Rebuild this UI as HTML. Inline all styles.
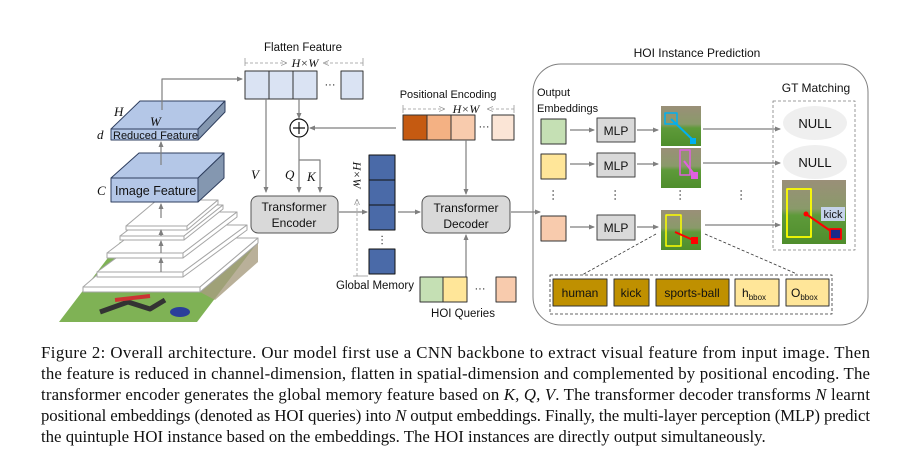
<!DOCTYPE html>
<html><head><meta charset="utf-8"><style>
html,body{margin:0;padding:0;background:#fff;width:910px;height:472px;overflow:hidden}
svg{display:block}
.s{font-family:"Liberation Sans","DejaVu Sans",sans-serif;fill:#111}
.i{font-family:"Liberation Serif",serif;font-style:italic;fill:#111}
.c{font-family:"Liberation Serif",serif;font-size:16.8px;fill:#111}
</style></head><body>
<svg width="910" height="472" viewBox="0 0 910 472" xmlns="http://www.w3.org/2000/svg">
<defs>
<marker id="a" markerWidth="6" markerHeight="6" refX="5" refY="3" orient="auto" markerUnits="userSpaceOnUse"><path d="M0,0.5 L6,3 L0,5.5 z" fill="#7f7f7f"/></marker>
<marker id="d" markerWidth="6" markerHeight="6" refX="5" refY="3" orient="auto" markerUnits="userSpaceOnUse"><path d="M0,0.5 L6,3 L0,5.5" fill="none" stroke="#999" stroke-width="0.8"/></marker>
<linearGradient id="ph" x1="0" y1="0" x2="0" y2="1"><stop offset="0" stop-color="#9a8f78"/><stop offset="0.45" stop-color="#8a9a6a"/><stop offset="0.55" stop-color="#5e9a3a"/><stop offset="1" stop-color="#4f8e2c"/></linearGradient>
</defs>
<g stroke-linejoin="round">
<!-- photo under stack -->
<polygon points="59,322 197,322 258,242 120,242" fill="#7fb255"/>
<polygon points="200,292 258,242 258,262 215,300" fill="#a89c80" opacity="0.8"/>
<path d="M100,312 L128,302 L150,309 L165,300" stroke="#333" stroke-width="5" fill="none"/>
<ellipse cx="180" cy="312" rx="10" ry="5" fill="#2a3f9a"/>
<path d="M115,300 L150,296" stroke="#c33" stroke-width="4"/>
<!-- layer stack -->
<g fill="#fff" stroke="#a6a6a6" stroke-width="1">
<polygon points="83,287 200,287 258,238 140,238"/><rect x="83" y="287" width="117" height="5"/><polygon points="200,287 258,238 258,243 200,292"/>
<polygon points="97,272 183,272 247,225 161,225"/><rect x="97" y="272" width="86" height="5"/><polygon points="183,272 247,225 247,230 183,277"/>
<polygon points="107,253 183,253 237,212 161,212"/><rect x="107" y="253" width="76" height="5"/><polygon points="183,253 237,212 237,217 183,258"/>
<polygon points="120,236 184,236 223,205 161,205"/><rect x="120" y="236" width="64" height="4"/><polygon points="184,236 223,205 223,209 184,240"/>
<polygon points="126,226 187,226 218,200 157,200"/><rect x="126" y="226" width="61" height="4"/><polygon points="187,226 218,200 218,204 187,230"/>
</g>
<g stroke="#7f7f7f" stroke-width="1.2" fill="none">
<line x1="161" y1="272" x2="161" y2="258" marker-end="url(#a)"/>
<line x1="161" y1="253" x2="161" y2="241" marker-end="url(#a)"/>
<line x1="161" y1="236" x2="161" y2="230" marker-end="url(#a)"/>
<line x1="161" y1="218" x2="161" y2="204" marker-end="url(#a)"/>
</g>
<!-- image feature -->
<polygon points="111,178 139,153 224,153 198,178" fill="#b4c7e7" stroke="#2f3f5f" stroke-width="1"/>
<polygon points="198,178 224,153 224,178 198,202" fill="#8497b0" stroke="#2f3f5f" stroke-width="1"/>
<rect x="111" y="178" width="87" height="24" fill="#b4c7e7" stroke="#2f3f5f" stroke-width="1"/>
<text x="115" y="195" class="s" font-size="12.5">Image Feature</text>
<text x="97" y="195" class="i" font-size="13">C</text>
<line x1="161" y1="165" x2="161" y2="142" stroke="#7f7f7f" stroke-width="1.2" marker-end="url(#a)"/>
<!-- reduced feature -->
<polygon points="111,129 140,101 225,101 198,129" fill="#b4c7e7" stroke="#2f3f5f" stroke-width="1"/>
<polygon points="198,129 225,101 225,112 198,140" fill="#8497b0" stroke="#2f3f5f" stroke-width="1"/>
<rect x="111" y="129" width="87" height="11" fill="#b4c7e7" stroke="#2f3f5f" stroke-width="1"/>
<text x="113" y="139" class="s" font-size="11">Reduced Feature</text>
<text x="114" y="116" class="i" font-size="13">H</text>
<text x="150" y="126" class="i" font-size="13">W</text>
<text x="97" y="139" class="i" font-size="13">d</text>
<polyline points="162,110 162,79 242,79" fill="none" stroke="#7f7f7f" stroke-width="1.2" marker-end="url(#a)"/>
<!-- flatten feature -->
<text x="303" y="51" class="s" font-size="11.5" text-anchor="middle">Flatten Feature</text>
<line x1="245" y1="58" x2="245" y2="66" stroke="#999" stroke-width="0.8"/><line x1="363" y1="58" x2="363" y2="66" stroke="#999" stroke-width="0.8"/>
<line x1="245" y1="63" x2="286" y2="63" stroke="#999" stroke-dasharray="3,2" stroke-width="0.8" marker-end="url(#d)"/>
<line x1="363" y1="63" x2="324" y2="63" stroke="#999" stroke-dasharray="3,2" stroke-width="0.8" marker-end="url(#d)"/>
<text x="305" y="67" class="i" font-size="12" text-anchor="middle">H×W</text>
<g fill="#dae3f3" stroke="#333" stroke-width="1">
<rect x="245" y="71" width="24" height="28"/><rect x="269" y="71" width="24" height="28"/><rect x="293" y="71" width="24" height="28"/><rect x="341" y="71" width="22" height="28"/>
</g>
<text x="330" y="88" class="s" font-size="11" text-anchor="middle">···</text>
<!-- V Q K -->
<g stroke="#7f7f7f" stroke-width="1.2" fill="none">
<line x1="266" y1="99" x2="266" y2="192" marker-end="url(#a)"/>
<line x1="299" y1="99" x2="299" y2="118" marker-end="url(#a)"/>
<line x1="299" y1="138" x2="299" y2="192" marker-end="url(#a)"/>
<polyline points="299,160 320,160 320,192" marker-end="url(#a)"/>
<line x1="396" y1="128" x2="310" y2="128" marker-end="url(#a)"/>
</g>
<circle cx="299" cy="128" r="9" fill="#fff" stroke="#111" stroke-width="1.2"/>
<path d="M293,128 H305 M299,122 V134" stroke="#111" stroke-width="1.2"/>
<text x="251" y="179" class="i" font-size="13">V</text>
<text x="285" y="179" class="i" font-size="13">Q</text>
<text x="307" y="181" class="i" font-size="13">K</text>
<!-- encoder -->
<rect x="251" y="196" width="87" height="37" rx="7" fill="#d9d9d9" stroke="#555" stroke-width="1"/>
<text x="294" y="211" class="s" font-size="12" text-anchor="middle">Transformer</text>
<text x="294" y="227" class="s" font-size="12" text-anchor="middle">Encoder</text>
<line x1="339" y1="212" x2="367" y2="212" stroke="#7f7f7f" stroke-width="1.2" marker-end="url(#a)"/>
<!-- global memory -->
<g fill="#4a6aa8" stroke="#111" stroke-width="1">
<rect x="369" y="155" width="26" height="25"/><rect x="369" y="180" width="26" height="25"/><rect x="369" y="205" width="26" height="25"/><rect x="369" y="249" width="26" height="25"/>
</g>
<text x="382" y="243" class="s" font-size="11" text-anchor="middle" transform="rotate(90 382 240)">···</text>
<text x="357" y="175" class="i" font-size="12" text-anchor="middle" transform="rotate(90 357 175)" dy="4">H×W</text>
<line x1="357" y1="276" x2="357" y2="200" stroke="#999" stroke-dasharray="3,2" stroke-width="0.8" marker-end="url(#d)"/>
<line x1="353" y1="276" x2="368" y2="276" stroke="#999" stroke-width="0.8"/>
<text x="375" y="289" class="s" font-size="11.5" text-anchor="middle">Global Memory</text>
<line x1="398" y1="212" x2="420" y2="212" stroke="#7f7f7f" stroke-width="1.2" marker-end="url(#a)"/>
<!-- positional encoding -->
<text x="448" y="98" class="s" font-size="11" text-anchor="middle">Positional Encoding</text>
<line x1="403" y1="105" x2="403" y2="113" stroke="#999" stroke-width="0.8"/><line x1="514" y1="105" x2="514" y2="113" stroke="#999" stroke-width="0.8"/>
<line x1="403" y1="109" x2="444" y2="109" stroke="#999" stroke-dasharray="3,2" stroke-width="0.8" marker-end="url(#d)"/>
<line x1="514" y1="109" x2="488" y2="109" stroke="#999" stroke-dasharray="3,2" stroke-width="0.8" marker-end="url(#d)"/>
<text x="466" y="113" class="i" font-size="12" text-anchor="middle">H×W</text>
<g stroke="#333" stroke-width="1">
<rect x="403" y="115" width="24" height="25" fill="#c55a11"/><rect x="427" y="115" width="24" height="25" fill="#f4b183"/><rect x="451" y="115" width="24" height="25" fill="#f8cbad"/><rect x="492" y="115" width="22" height="25" fill="#fbe5d6"/>
</g>
<text x="484" y="130" class="s" font-size="11" text-anchor="middle">···</text>
<line x1="466" y1="140" x2="466" y2="194" stroke="#7f7f7f" stroke-width="1.2" marker-end="url(#a)"/>
<!-- decoder -->
<rect x="422" y="196" width="88" height="37" rx="7" fill="#d9d9d9" stroke="#555" stroke-width="1"/>
<text x="466" y="212" class="s" font-size="12" text-anchor="middle">Transformer</text>
<text x="466" y="228" class="s" font-size="12" text-anchor="middle">Decoder</text>
<line x1="466" y1="277" x2="466" y2="235" stroke="#7f7f7f" stroke-width="1.2" marker-end="url(#a)"/>
<line x1="511" y1="212" x2="540" y2="212" stroke="#7f7f7f" stroke-width="1.2" marker-end="url(#a)"/>
<!-- HOI queries -->
<g stroke="#333" stroke-width="1">
<rect x="420" y="277" width="23" height="25" fill="#c5e0b4"/><rect x="443" y="277" width="24" height="25" fill="#ffe699"/><rect x="496" y="277" width="20" height="25" fill="#f8cbad"/>
</g>
<text x="480" y="292" class="s" font-size="11" text-anchor="middle">···</text>
<text x="463" y="317" class="s" font-size="11.5" text-anchor="middle">HOI Queries</text>
<!-- HOI instance prediction -->
<text x="697" y="57" class="s" font-size="12" text-anchor="middle">HOI Instance Prediction</text>
<rect x="533" y="64" width="335" height="261" rx="28" fill="none" stroke="#7f7f7f" stroke-width="1"/>
<text x="537" y="96" class="s" font-size="11">Output</text>
<text x="537" y="112" class="s" font-size="11">Embeddings</text>
<g stroke="#333" stroke-width="1">
<rect x="541" y="119" width="25" height="25" fill="#c5e0b4"/><rect x="541" y="154" width="25" height="25" fill="#ffe699"/><rect x="541" y="216" width="25" height="25" fill="#f8cbad"/>
</g>
<g stroke="#7f7f7f" stroke-width="1.2" fill="none">
<line x1="570" y1="130" x2="594" y2="130" marker-end="url(#a)"/>
<line x1="570" y1="164" x2="594" y2="164" marker-end="url(#a)"/>
<line x1="570" y1="227" x2="594" y2="227" marker-end="url(#a)"/>
<line x1="637" y1="130" x2="658" y2="130" marker-end="url(#a)"/>
<line x1="637" y1="164" x2="658" y2="164" marker-end="url(#a)"/>
<line x1="637" y1="227" x2="658" y2="227" marker-end="url(#a)"/>
<line x1="703" y1="129" x2="780" y2="129" marker-end="url(#a)"/>
<line x1="703" y1="163" x2="780" y2="163" marker-end="url(#a)"/>
<line x1="705" y1="225" x2="780" y2="225" marker-end="url(#a)"/>
</g>
<g fill="#d9d9d9" stroke="#444" stroke-width="1">
<rect x="597" y="118" width="38" height="24"/><rect x="597" y="153" width="38" height="24"/><rect x="597" y="215" width="38" height="25"/>
</g>
<text x="616" y="135" class="s" font-size="12" text-anchor="middle">MLP</text><text x="616" y="170" class="s" font-size="12" text-anchor="middle">MLP</text><text x="616" y="232" class="s" font-size="12" text-anchor="middle">MLP</text>
<text x="552" y="197" class="s" font-size="12" text-anchor="middle" transform="rotate(90 552 195)">···</text>
<text x="614" y="197" class="s" font-size="12" text-anchor="middle" transform="rotate(90 614 195)">···</text>
<text x="679" y="197" class="s" font-size="12" text-anchor="middle" transform="rotate(90 679 195)">···</text>
<text x="740" y="197" class="s" font-size="12" text-anchor="middle" transform="rotate(90 740 195)">···</text>
<!-- thumbnails -->
<rect x="661" y="106" width="40" height="40" fill="url(#ph)"/>
<rect x="665" y="113" width="12" height="11" fill="none" stroke="#00b0f0" stroke-width="1.5"/><line x1="671" y1="119" x2="694" y2="141" stroke="#00b0f0" stroke-width="2"/><rect x="690" y="138" width="6" height="6" fill="#00b0f0"/>
<rect x="661" y="148" width="40" height="40" fill="url(#ph)"/>
<rect x="680" y="150" width="10" height="25" fill="none" stroke="#e060e0" stroke-width="1.5"/><line x1="684" y1="161" x2="694" y2="174" stroke="#e060e0" stroke-width="2"/><rect x="691" y="172" width="7" height="7" fill="#e060e0"/>
<rect x="661" y="210" width="40" height="40" fill="url(#ph)"/>
<rect x="666" y="215" width="15" height="31" fill="none" stroke="#ffff00" stroke-width="1.5"/><line x1="675" y1="232" x2="693" y2="240" stroke="#f00" stroke-width="2"/><rect x="691" y="237" width="7" height="7" fill="#f00"/>
<!-- GT matching -->
<text x="816" y="92" class="s" font-size="12" text-anchor="middle">GT Matching</text>
<rect x="773" y="101" width="82" height="149" fill="none" stroke="#7f7f7f" stroke-width="0.8" stroke-dasharray="3,2"/>
<ellipse cx="815" cy="123" rx="32" ry="17" fill="#efefef"/>
<ellipse cx="815" cy="162" rx="32" ry="17" fill="#efefef"/>
<text x="815" y="128" class="s" font-size="13" text-anchor="middle">NULL</text>
<text x="815" y="167" class="s" font-size="13" text-anchor="middle">NULL</text>
<rect x="782" y="180" width="64" height="64" fill="url(#ph)"/>
<rect x="787" y="189" width="24" height="48" fill="none" stroke="#ffff00" stroke-width="1.8"/>
<rect x="821" y="207" width="24" height="14" fill="#c5d3ea"/>
<text x="833" y="218" class="s" font-size="11" text-anchor="middle">kick</text>
<line x1="806" y1="214" x2="835" y2="234" stroke="#f00" stroke-width="2"/><circle cx="806" cy="214" r="2.5" fill="#f00"/>
<rect x="830" y="229" width="11" height="10" fill="#1a2a8a" stroke="#f00" stroke-width="1.8"/>
<!-- bottom tuple -->
<line x1="656" y1="234" x2="582" y2="275" stroke="#333" stroke-width="0.8" stroke-dasharray="3,2"/>
<line x1="705" y1="234" x2="797" y2="274" stroke="#333" stroke-width="0.8" stroke-dasharray="3,2"/>
<rect x="550" y="275" width="282" height="39" fill="none" stroke="#333" stroke-width="0.8" stroke-dasharray="3,2"/>
<g stroke="#333" stroke-width="1">
<rect x="553" y="279" width="54" height="27" fill="#bf9000"/><rect x="614" y="279" width="35" height="27" fill="#bf9000"/><rect x="656" y="279" width="73" height="27" fill="#bf9000"/>
<rect x="735" y="279" width="44" height="27" fill="#ffe699"/><rect x="786" y="279" width="43" height="27" fill="#ffe699"/>
</g>
<text x="580" y="297" class="s" font-size="12" text-anchor="middle">human</text>
<text x="631" y="297" class="s" font-size="12" text-anchor="middle">kick</text>
<text x="692" y="297" class="s" font-size="12" text-anchor="middle">sports-ball</text>
<text x="742" y="297" class="s" font-size="12">h<tspan font-size="8" dy="3">bbox</tspan></text>
<text x="791" y="297" class="s" font-size="12">O<tspan font-size="8" dy="3">bbox</tspan></text>
</g>
<!-- caption -->
<text x="41" y="358" class="c" textLength="829" lengthAdjust="spacing">Figure 2:  Overall architecture.  Our model first use a CNN backbone to extract visual feature from input image.  Then</text>
<text x="41" y="379" class="c" textLength="829" lengthAdjust="spacing">the feature is reduced in channel-dimension, flatten in spatial-dimension and complemented by positional encoding.  The</text>
<text x="41" y="400" class="c" textLength="829" lengthAdjust="spacing">transformer encoder generates the global memory feature based on <tspan font-style="italic">K, Q, V</tspan>.  The transformer decoder transforms <tspan font-style="italic">N</tspan> learnt</text>
<text x="41" y="421" class="c" textLength="829" lengthAdjust="spacing">positional embeddings (denoted as HOI queries) into <tspan font-style="italic">N</tspan> output embeddings. Finally, the multi-layer perception (MLP) predict</text>
<text x="41" y="442" class="c">the quintuple HOI instance based on the embeddings. The HOI instances are directly output simultaneously.</text>
</svg>
</body></html>
